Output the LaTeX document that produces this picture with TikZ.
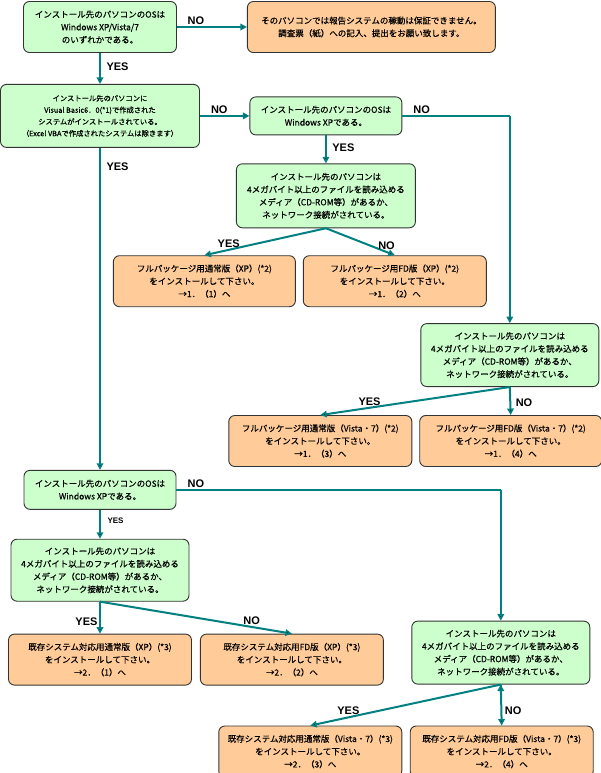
\documentclass[tikz,border=0pt]{standalone}
\usepackage{fontspec}
\usepackage{xcolor}
\usetikzlibrary{positioning,arrows.meta}
\newfontfamily\jpfont{Noto Sans CJK JP}[FakeBold=0.4]
\newfontfamily\lblfont{Liberation Sans}
\definecolor{askgreen}{HTML}{CCFFCC}
\definecolor{ansorange}{HTML}{FFCC99}
\definecolor{flowteal}{HTML}{008080}

\begin{document}
\begin{tikzpicture}[x=1pt,y=-1pt,>={Triangle[length=6.5pt,width=6.5pt]},
  box/.style={draw=black!80,line width=0.9pt,rounded corners=6pt,inner sep=0pt,align=center,font=\jpfont\fontsize{8.5}{12.7}\selectfont},
  ask/.style={box,fill=askgreen},
  ans/.style={box,fill=ansorange},
  lbl/.style={font=\lblfont\bfseries\fontsize{11}{11}\selectfont,inner sep=1.5pt},
  flow/.style={->,draw=flowteal,line width=2pt},
  bare/.style={-,draw=flowteal,line width=2pt}]
    \useasboundingbox (0,0) rectangle (600,773);

    \node[ask, minimum width=153pt, minimum height=51pt] (q1) at (100,27) {インストール先のパソコンのOSは\\Windows XP/Vista/7\\のいずれかである。};
    \node[ans, minimum width=248pt, minimum height=51pt] (r0) [right=70pt of q1] {そのパソコンでは報告システムの稼動は保証できません。\\調査票（紙）への記入、提出をお願い致します。};
    \node[ask, minimum width=199pt, minimum height=63pt, font=\jpfont\fontsize{7.3}{11.7}\selectfont] (q2) [below=31pt of q1] {インストール先のパソコンに\\Visual Basic6．0(*1)で作成された\\システムがインストールされている。\\（Excel VBAで作成されたシステムは除きます）};
    \node[ask, minimum width=152pt, minimum height=38pt] (q3) [right=49.5pt of q2] {インストール先のパソコンのOSは\\Windows XPである。};
    \node[ask, minimum width=179pt, minimum height=64pt] (q4) [below=28pt of q3] {インストール先のパソコンは\\4メガバイト以上のファイルを読み込める\\メディア（CD-ROM等）があるか、\\ネットワーク接続がされている。};
    \node[ans, minimum width=182pt, minimum height=51pt] (r1) [below=27pt of q4, xshift=-121.5pt] {フルパッケージ用通常版（XP）(*2)\\をインストールして下さい。\\→1．（1）へ};
    \node[ans, minimum width=183pt, minimum height=51pt] (r2) [right=7pt of r1] {フルパッケージ用FD版（XP）(*2)\\をインストールして下さい。\\→1．（2）へ};

    \node[ask, minimum width=178pt, minimum height=63pt] (q5) [below=16pt of r2, xshift=115pt] {インストール先のパソコンは\\4メガバイト以上のファイルを読み込める\\メディア（CD-ROM等）があるか、\\ネットワーク接続がされている。};
    \node[ans, minimum width=183pt, minimum height=51pt] (r3) [below=28pt of q5, xshift=-189.5pt] {フルパッケージ用通常版（Vista・7）(*2)\\をインストールして下さい。\\→1．（3）へ};
    \node[ans, minimum width=182pt, minimum height=51pt] (r4) [right=7pt of r3] {フルパッケージ用FD版（Vista・7）(*2)\\をインストールして下さい。\\→1．（4）へ};

    \node[ask, minimum width=152pt, minimum height=39pt] (q6) [below=322pt of q2] {インストール先のパソコンのOSは\\Windows XPである。};
    \node[ask, minimum width=178pt, minimum height=62pt] (q7) [below=29pt of q6] {インストール先のパソコンは\\4メガバイト以上のファイルを読み込める\\メディア（CD-ROM等）があるか、\\ネットワーク接続がされている。};
    \node[ans, minimum width=183pt, minimum height=51pt] (s1) [below=32pt of q7] {既存システム対応用通常版（XP）(*3)\\をインストールして下さい。\\→2．（1）へ};
    \node[ans, minimum width=183pt, minimum height=51pt] (s2) [right=8pt of s1] {既存システム対応用FD版（XP）(*3)\\をインストールして下さい。\\→2．（2）へ};

    \node[ask, minimum width=178pt, minimum height=63pt] (q8) [right=27.5pt of s2, yshift=7pt] {インストール先のパソコンは\\4メガバイト以上のファイルを読み込める\\メディア（CD-ROM等）があるか、\\ネットワーク接続がされている。};
    \node[ans, minimum width=183pt, minimum height=51pt] (s3) [below=41pt of q8, xshift=-190.5pt] {既存システム対応用通常版（Vista・7）(*3)\\をインストールして下さい。\\→2．（3）へ};
    \node[ans, minimum width=183pt, minimum height=51pt] (s4) [right=7.5pt of s3] {既存システム対応用FD版（Vista・7）(*3)\\をインストールして下さい。\\→2．（4）へ};

    % corners of the two long NO lines
    \coordinate (c1) at (q3 -| q5);
    \coordinate (c2) at (q6 -| q8);

    \path[flow]
        (q1) edge node[lbl, above, pos=0.27] {NO} (r0)
        (q1) edge node[lbl, right=4pt, pos=0.45] {YES} (q2)
        (q2) edge node[lbl, above, pos=0.39] {NO} (q3)
        (q3) edge node[lbl, right=4pt, pos=0.43] {YES} (q4)
        (q3) edge[bare] node[lbl, above, pos=0.18] {NO} (c1)
        (c1) edge (q5)
        (q4.south) edge node[lbl, above, pos=0.8] {YES} (r1.north)
        (q4.south) edge node[lbl, above, pos=0.88] {NO} (r2.north)
        (q5.south) edge node[lbl, above, pos=0.74] {YES} (r3.north)
        (q5.south) edge node[lbl, right=3pt, pos=0.55] {NO} (r4.north)
        (q2) edge node[lbl, right=4pt, pos=0.06] {YES} (q6)
        (q6) edge node[lbl, right=5pt, pos=0.38, font=\lblfont\bfseries\fontsize{8}{8}\selectfont] {YES} (q7)
        (q6) edge[bare] node[lbl, above, pos=0.06] {NO} (c2)
        (c2) edge (q8)
        (q7.south) edge node[lbl, left=0pt, pos=0.62] {YES} (s1.north)
        (q7.south) edge node[lbl, above, pos=0.79] {NO} (s2.north)
        (q8.south) edge node[lbl, above, pos=0.8] {YES} (s3.north)
        (q8.south) edge node[lbl, right=1pt, pos=0.63] {NO} (s4.north)
        ;
\end{tikzpicture}
\end{document}
